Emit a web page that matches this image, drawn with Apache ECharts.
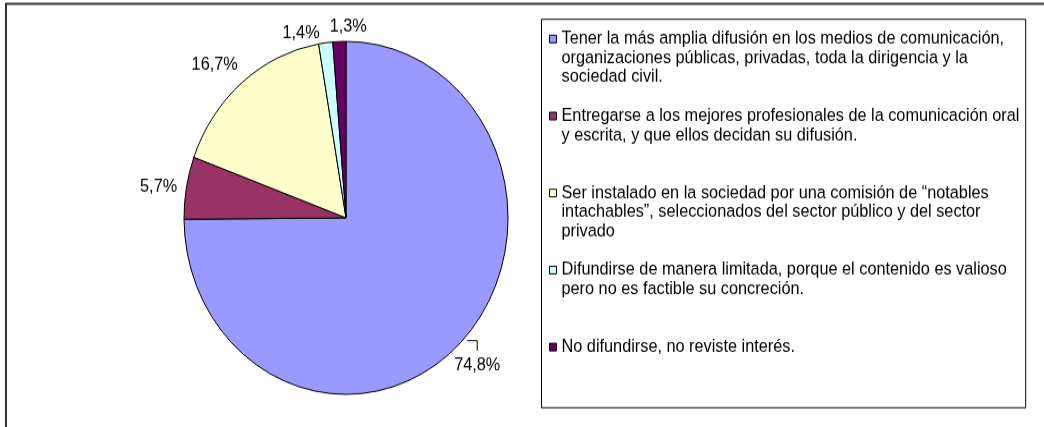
<!DOCTYPE html>
<html>
<head>
<meta charset="utf-8">
<script src="https://cdn.jsdelivr.net/npm/echarts@6/dist/echarts.min.js"></script>
<style>
  html, body { margin: 0; padding: 0; background: #fff; width: 1044px; height: 427px; overflow: hidden; }
  #wrap { width: 1044px; height: 427px; overflow: hidden; }
  /* the original picture is stretched vertically, so the whole chart is too */
  #chart { width: 1044px; height: 392px; transform: scaleY(1.0893); transform-origin: 0 0; }
</style>
</head>
<body>
<div id="wrap"><div id="chart"></div></div>
<script>
// respuestas (texto de la leyenda) y porcentajes
const categories = [
  'Tener la más amplia difusión en los medios de comunicación,\norganizaciones públicas, privadas, toda la dirigencia y la\nsociedad civil.',
  'Entregarse a los mejores profesionales de la comunicación oral\ny escrita, y que ellos decidan su difusión.',
  'Ser instalado en la sociedad por una comisión de “notables\nintachables”, seleccionados del sector público y del sector\nprivado',
  'Difundirse de manera limitada, porque el contenido es valioso\npero no es factible su concreción.',
  'No difundirse, no reviste interés.'
];
const values = [74.8, 5.7, 16.7, 1.4, 1.3];
const colors = ['#9999FF', '#993366', '#FFFFCC', '#CCFFFF', '#660066'];

const FONT = 'Liberation Sans, Arial, sans-serif';
const FONT_SIZE = 16.3;
const CX = 346, CY = 200, R = 162;
const LABEL_GAP = 6.5;
// small moves of the labels, like the crowded ones in the original
const labelNudge = [[-4, 1], [-2, 4], [-10, 5], [-22.5, 7.5], [9.5, 2]];
const LH = 17.6;
const legendTop0 = 35.8, legendStep = 70.7;

const total = values.reduce((a, b) => a + b, 0);
function midAngle(i) {
  let s = 0;
  for (let k = 0; k < i; k++) s += values[k];
  return (s + values[i] / 2) / total * 2 * Math.PI;
}

// one legend per entry so every entry sits on its own slot;
// blank lines on top keep the square beside the first line
const legends = categories.map(function (name, i) {
  const n = name.split('\n').length;
  const pad = ' \n'.repeat(n - 1);
  return {
    data: [name],
    left: 549,
    top: legendTop0 + legendStep * i - (2 * n - 1) * LH / 2,
    orient: 'vertical',
    padding: 0,
    itemWidth: 7,
    itemHeight: 7,
    icon: 'rect',
    selectedMode: false,
    itemStyle: { borderColor: '#000', borderWidth: 1 },
    formatter: nm => pad + nm,
    textStyle: {
      fontFamily: FONT, fontSize: FONT_SIZE, color: '#000', lineHeight: LH,
      backgroundColor: 'transparent'
    }
  };
});

const chart = echarts.init(document.getElementById('chart'));
chart.setOption({
  animation: false,
  backgroundColor: '#fff',
  legend: legends,
  graphic: [
    { type: 'rect', silent: true, z: -1, shape: { x: 6, y: 3.4, width: 1200, height: 600 },
      style: { fill: 'none', stroke: '#333', lineWidth: 2 } },
    { type: 'rect', silent: true, z: -1, shape: { x: 541.5, y: 17.7, width: 484.2, height: 356.6 },
      style: { fill: 'none', stroke: '#000', lineWidth: 1 } }
  ],
  series: [{
    type: 'pie',
    center: [CX, CY],
    radius: R,
    startAngle: 90,
    clockwise: true,
    avoidLabelOverlap: false,
    emphasis: { disabled: true },
    itemStyle: { borderColor: '#000', borderWidth: 1 },
    label: {
      show: true,
      position: 'outside',
      fontFamily: FONT,
      fontSize: FONT_SIZE,
      color: '#000',
      formatter: p => p.value.toFixed(1).replace('.', ',') + '%'
    },
    labelLine: { show: false, length: 8, length2: 8, lineStyle: { color: '#000', width: 1 } },
    labelLayout: function (p) {
      const a = midAngle(p.dataIndex);
      const dx = Math.sin(a), dy = -Math.cos(a);
      const w = p.labelRect.width, h = p.labelRect.height;
      const d = R + LABEL_GAP + Math.abs(dx) * w / 2 + Math.abs(dy) * h / 2;
      const nd = labelNudge[p.dataIndex];
      const x = CX + d * dx + nd[0], y = CY + d * dy + nd[1];
      const out = { x: x, y: y, align: 'center', verticalAlign: 'middle' };
      // small bracket above the big slice's label, as in the original
      if (p.dataIndex === 0) {
        out.labelLinePoints = [[x - 10, y - 22.5], [x, y - 22.5], [x, y - 13.3]];
      }
      return out;
    },
    data: categories.map((name, i) => ({
      name: name,
      value: values[i],
      itemStyle: { color: colors[i] },
      labelLine: { show: i === 0 }
    }))
  }]
});
</script>
</body>
</html>
